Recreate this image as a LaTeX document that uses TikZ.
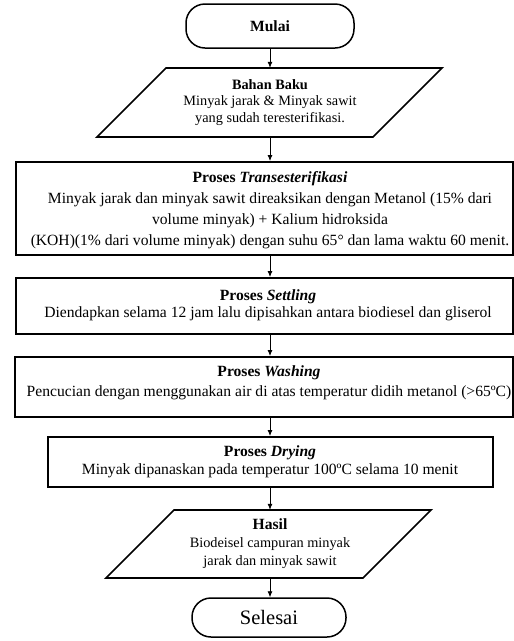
\documentclass[tikz,border=0pt]{standalone}
\usepackage{fontspec}
\setmainfont{Liberation Serif}
\usetikzlibrary{arrows.meta}
\begin{document}
\begin{tikzpicture}[x=1pt,y=-1pt,
  every node/.style={align=center, inner sep=0pt},
  procbox/.style={draw, line width=2pt, rectangle},
  term/.style={draw, line width=1.5pt, rounded corners=19pt},
  iobox/.style={line width=1.7pt, line join=miter},
  arr/.style={-{Latex[length=6pt,width=5pt]}, line width=0.8pt}]
\useasboundingbox (0,0) rectangle (514,641);
\def\fs#1{\fontsize{14.3}{#1}\selectfont}
\def\fb#1{\fontsize{15.6}{#1}\selectfont}

% Mulai
\node[term, minimum width=168pt, minimum height=44pt, font=\fb{18}] (start) at (270,26) {\textbf{Mulai}};

% Bahan Baku
\node[minimum width=208pt, minimum height=69pt, font=\fs{16.5}] (bb) at (270,102.5)
  {\textbf{Bahan Baku}\\ Minyak jarak \& Minyak sawit\\ yang sudah teresterifikasi.};
\draw[iobox] (166,68) -- (442,68) -- (373,137) -- (97,137) -- cycle;

% Transesterifikasi
\node[procbox, minimum width=497pt, minimum height=93pt] (te) at (264.5,208.5) {};
\node[font=\fb{21}] (tet) at (270,210)
  {\textbf{Proses \textit{Transesterifikasi}}\\
   Minyak jarak dan minyak sawit direaksikan dengan Metanol (15\% dari\\
   volume minyak) + Kalium hidroksida\\
   (KOH)(1\% dari volume minyak) dengan suhu 65° dan lama waktu 60 menit.};

% Settling
\node[procbox, minimum width=497pt, minimum height=56pt] (st) at (264.5,306) {};
\node[font=\fb{17.5}] (stt) at (268,305.5)
  {\textbf{Proses \textit{Settling}}\\
   Diendapkan selama 12 jam lalu dipisahkan antara biodiesel dan gliserol};

% Washing
\node[procbox, minimum width=498pt, minimum height=60pt] (wa) at (264,387) {};
\node[font=\fb{20}] (wat) at (269,383)
  {\textbf{Proses \textit{Washing}}\\
   Pencucian dengan menggunakan air di atas temperatur didih metanol (>65ºC)};

% Drying
\node[procbox, minimum width=445pt, minimum height=50pt, font=\fb{18}] (dr) at (270,462)
  {\textbf{Proses \textit{Drying}}\\
   Minyak dipanaskan pada temperatur 100ºC selama 10 menit};

% Hasil
\node[minimum width=189pt, minimum height=68pt, font=\fs{18}] (ha) at (270,544)
  {{\fontsize{15.6}{18}\selectfont\textbf{Hasil}}\\ Biodeisel campuran minyak\\ jarak dan minyak sawit};
\draw[iobox] (174,510) -- (431,510) -- (363,578) -- (106,578) -- cycle;

% Selesai
\node[term, minimum width=154pt, minimum height=39pt, font={\fontsize{20.5}{22}\selectfont}] (end) at (269,617.5) {Selesai};

% connectors
\draw[arr] (start.south) -- (bb.north);
\draw[arr] (bb.south) -- (bb.south |- te.north);
\draw[arr] (bb.south |- te.south) -- (bb.south |- st.north);
\draw[arr] (bb.south |- st.south) -- (bb.south |- wa.north);
\draw[arr] (bb.south |- wa.south) -- (dr.north);
\draw[arr] (dr.south) -- (ha.north);
\draw[arr] (ha.south) -- (ha.south |- end.north);
\end{tikzpicture}
\end{document}
